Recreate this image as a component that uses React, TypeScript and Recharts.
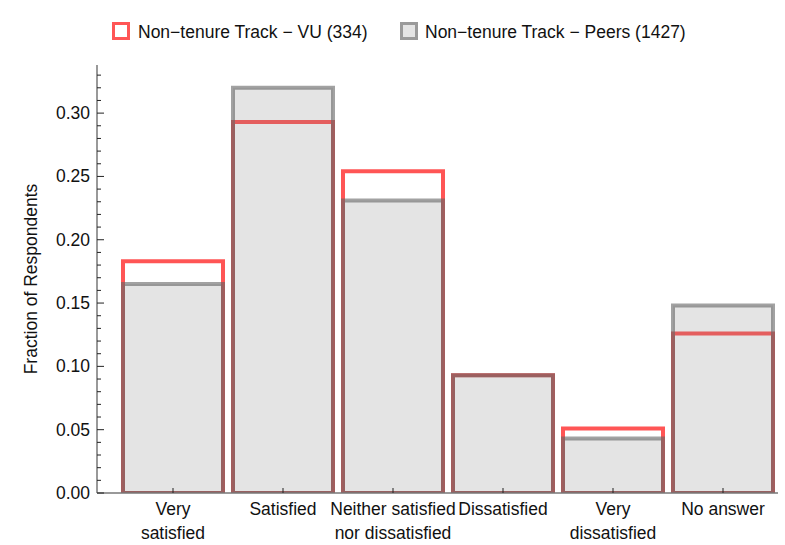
import React from 'react';
import { BarChart, Bar, XAxis, YAxis } from 'recharts';

const categories = ['Very satisfied', 'Satisfied', 'Neither satisfied nor dissatisfied', 'Dissatisfied', 'Very dissatisfied', 'No answer'];
const categoryLines = [['Very', 'satisfied'], ['Satisfied'], ['Neither satisfied', 'nor dissatisfied'], ['Dissatisfied'], ['Very', 'dissatisfied'], ['No answer']];
const vuValues = [0.183, 0.293, 0.254, 0.093, 0.051, 0.126];
const peerValues = [0.165, 0.320, 0.231, 0.093, 0.043, 0.148];
const yTicks = [0, 0.01, 0.02, 0.03, 0.04, 0.05, 0.06, 0.07, 0.08, 0.09, 0.1, 0.11, 0.12, 0.13, 0.14, 0.15, 0.16, 0.17, 0.18, 0.19, 0.2, 0.21, 0.22, 0.23, 0.24, 0.25, 0.26, 0.27, 0.28, 0.29, 0.3, 0.31, 0.32, 0.33];
const seriesNames = ['Non\u2212tenure Track \u2212 VU (334)', 'Non\u2212tenure Track \u2212 Peers (1427)'];

const data = categories.map((c, i) => ({ name: c, lines: categoryLines[i], vu: vuValues[i], peers: peerValues[i] }));

const FONT = '"Liberation Sans", Arial, sans-serif';
const FS = 17.5;
const RED = '#ff5555';
const PEER_FILL = 'rgba(128,128,128,0.21)';
const PEER_STROKE = 'rgba(100,100,100,0.6)';

const YTick = (props: any) => {
  const { x, y, payload } = props;
  const v = payload.value;
  const major = Math.round(v * 100) % 5 === 0;
  return (
    <g>
      <line x1={x} x2={x + (major ? 7 : 4)} y1={y} y2={y} stroke="#222" strokeWidth={1} />
      {major && (
        <text x={x - 7} y={y + 6} textAnchor="end" fontSize={FS} fontFamily={FONT} fill="#111">
          {v.toFixed(2)}
        </text>
      )}
    </g>
  );
};

const XTick = (props: any) => {
  const { x, y, index } = props;
  const lines = categoryLines[index] || [];
  return (
    <g>
      <line x1={x} x2={x} y1={y - 5} y2={y} stroke="#222" strokeWidth={1} />
      {lines.map((l, i) => (
        <text key={i} x={x} y={y + 22 + i * 24} textAnchor="middle" fontSize={FS} fontFamily={FONT} fill="#111">
          {l}
        </text>
      ))}
    </g>
  );
};

const YLabel = (props: any) => {
  const { viewBox } = props;
  const cy = viewBox.y + viewBox.height / 2;
  const cx = 31;
  return (
    <text x={cx} y={cy} transform={`rotate(-90 ${cx} ${cy})`} textAnchor="middle" dominantBaseline="central" fontSize={FS} fontFamily={FONT} fill="#111">
      Fraction of Respondents
    </text>
  );
};

const Legend = () => (
  <div style={{ position: 'absolute', left: 0, top: 0, width: 785, height: 60 }}>
    <svg width={785} height={60} style={{ position: 'absolute', left: 0, top: 0 }}>
      <rect x={113.5} y={23.5} width={15} height={15} fill="#fff" stroke={RED} strokeWidth={3} />
      <text x={138} y={38} fontSize={FS} fontFamily={FONT} fill="#111">{seriesNames[0]}</text>
      <rect x={401.5} y={23.5} width={15} height={15} fill="#e4e4e4" stroke="#9a9a9a" strokeWidth={3} />
      <text x={425} y={38} fontSize={FS} fontFamily={FONT} fill="#111">{seriesNames[1]}</text>
    </svg>
  </div>
);

export default function App() {
  return (
    <div style={{ position: 'absolute', left: 0, top: 0, width: 785, height: 545, background: '#fff' }}>
      <BarChart width={785} height={545} data={data} margin={{ top: 65, right: 7, bottom: 0, left: 0 }} barGap={-100}>
        <XAxis
          dataKey="name"
          interval={0}
          padding={{ left: 21, right: 0 }}
          tickLine={false}
          tickSize={0}
          tickMargin={0}
          tick={<XTick />}
          axisLine={{ stroke: '#777', strokeWidth: 1.5 }}
          height={52}
        />
        <YAxis
          domain={[0, 0.338]}
          ticks={yTicks}
          interval={0}
          width={97}
          tickLine={false}
          tickSize={0}
          tickMargin={0}
          tick={<YTick />}
          axisLine={{ stroke: '#777', strokeWidth: 1.5 }}
          allowDataOverflow
          label={{ content: <YLabel /> }}
        />
        <Bar dataKey="vu" name={seriesNames[0]} barSize={100} fill="none" stroke={RED} strokeWidth={4} isAnimationActive={false} />
        <Bar dataKey="peers" name={seriesNames[1]} barSize={100} fill={PEER_FILL} stroke={PEER_STROKE} strokeWidth={4} isAnimationActive={false} />
      </BarChart>
      <Legend />
    </div>
  );
}
